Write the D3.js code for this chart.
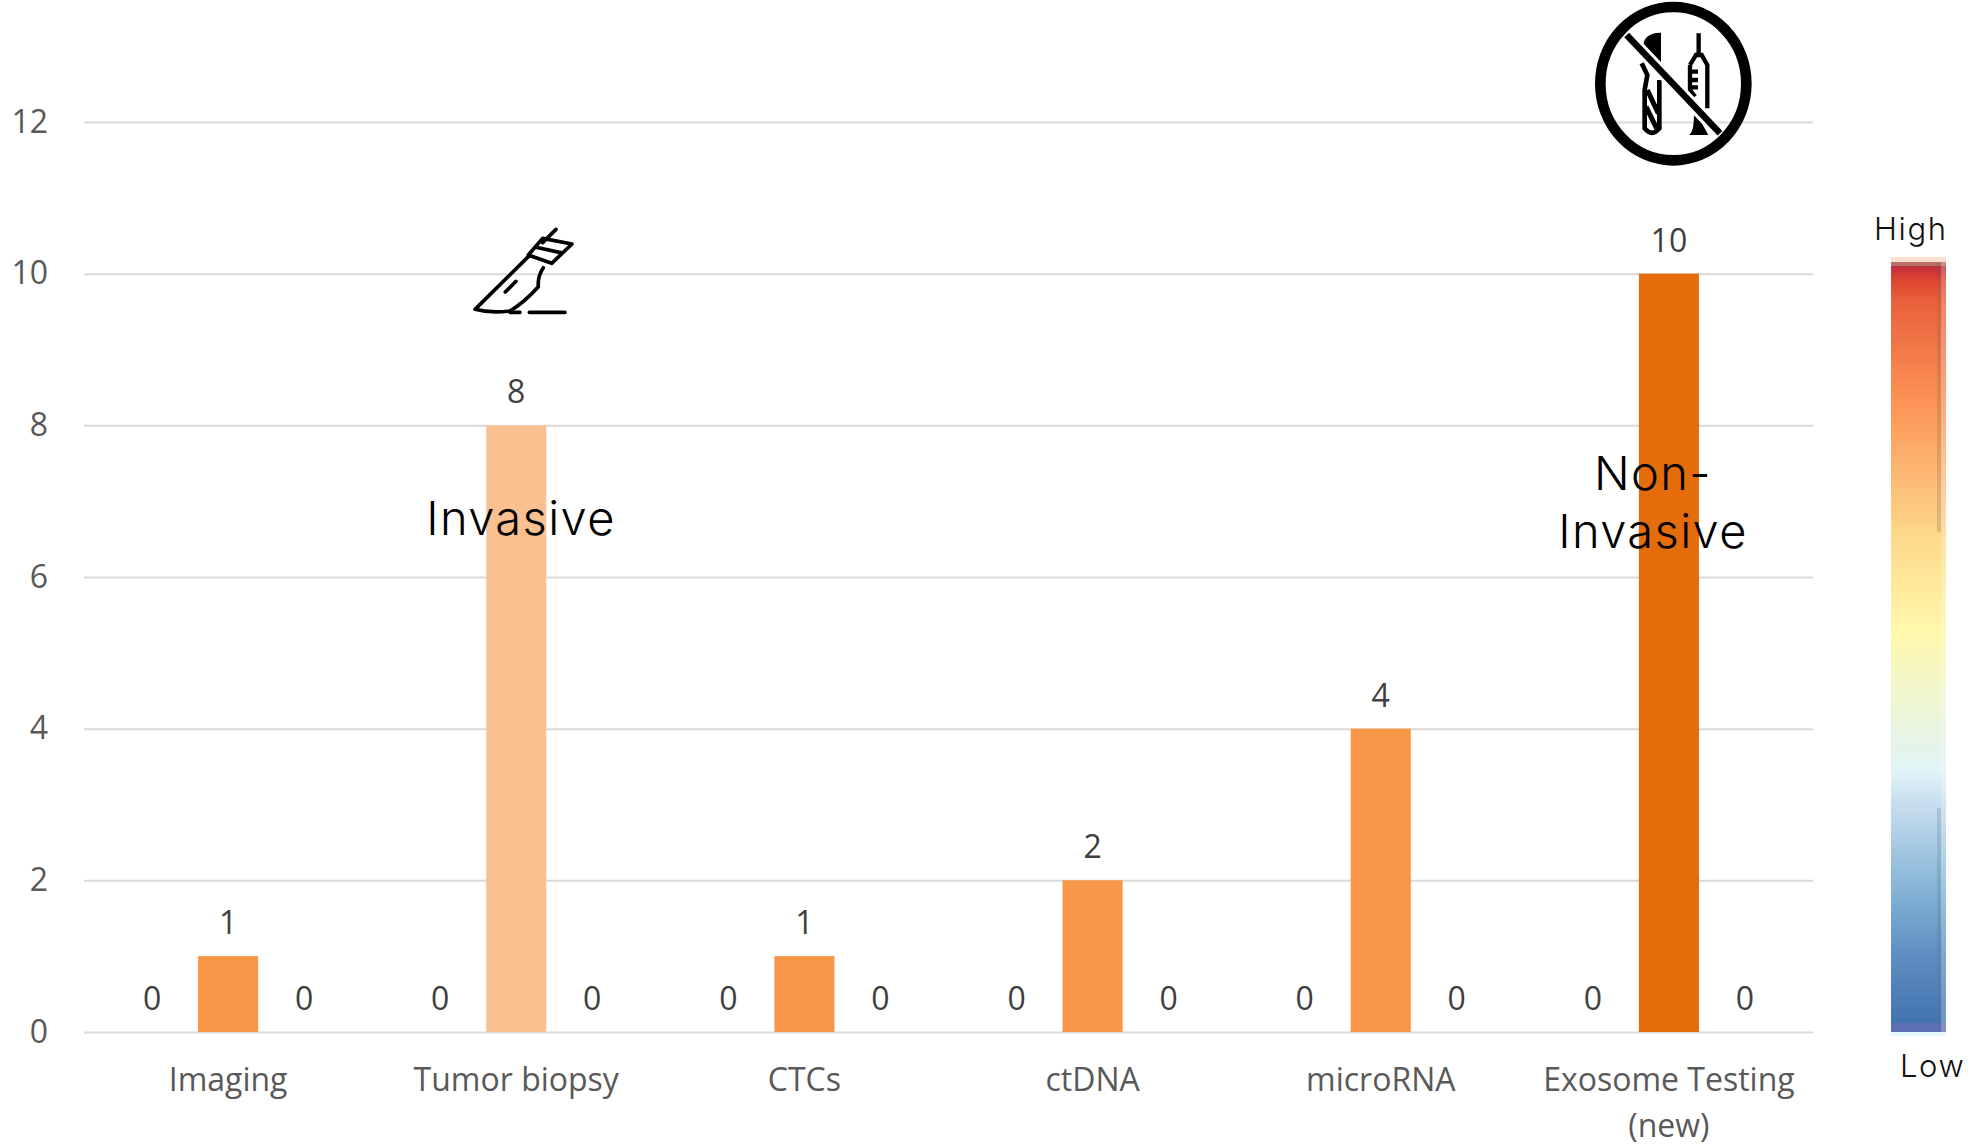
<!DOCTYPE html>
<html>
<head>
<meta charset="utf-8">
<script src="https://cdn.jsdelivr.net/npm/d3@7"></script>
<style>
  html, body { margin: 0; padding: 0; background: #fff; }
  svg { display: block; }
</style>
</head>
<body>
<script>
const categories = ["Imaging", "Tumor biopsy", "CTCs", "ctDNA", "microRNA", "Exosome Testing (new)"];
const seriesNames = ["before", "score", "after"];
const beforeValues = [0, 0, 0, 0, 0, 0];
const scoreValues = [1, 8, 1, 2, 4, 10];
const afterValues = [0, 0, 0, 0, 0, 0];
const scoreColors = ["#f79646", "#fac090", "#f79646", "#f79646", "#f79646", "#e46c0a"];
const yTicks = [0, 2, 4, 6, 8, 10, 12];
const legendOffsets = [0, 0.0064, 0.0064, 0.0116, 0.0116, 0.0167, 0.03, 0.056, 0.185, 0.36, 0.48, 0.57, 0.66, 0.70, 0.80, 0.90, 0.983, 0.983, 0.995, 0.995, 1];
const legendColors = ["#fde0cf", "#fde0cf", "#b97068", "#b97068", "#b5303a", "#c8323a", "#e0452f", "#e9603c", "#fc9355", "#fdd98c", "#fff8aa", "#eef6d2", "#e0f3f8", "#c9deee", "#8ab9d9", "#5c8cc0", "#4474b0", "#5f6fb5", "#5f6fb5", "#e6fbfb", "#e6fbfb"];

const width = 1971, height = 1145;
const plotLeft = 84, plotRight = 1813, plotTop = 122, plotBottom = 1032;
const labelFont = "'Open Sans', sans-serif";
const noteFont = "Inter, sans-serif";

const svg = d3.select("body").append("svg").attr("width", width).attr("height", height);

const x0 = d3.scaleBand().domain(categories).range([plotLeft, plotRight]);
const x1 = d3.scaleBand().domain(seriesNames).range([0, x0.bandwidth()]).paddingInner(0.21).paddingOuter(0.5);
const y = d3.scaleLinear().domain([0, 12]).range([plotBottom, plotTop]);

// gridlines + y labels
const yAxis = svg.append("g")
    .attr("transform", "translate(" + plotLeft + ",0)")
    .call(d3.axisLeft(y).tickValues(yTicks).tickSize(-(plotRight - plotLeft)).tickPadding(36));
yAxis.select(".domain").remove();
yAxis.selectAll("line").attr("stroke", "#d9d9d9").attr("stroke-width", 2);
yAxis.selectAll("text").attr("fill", "#595959").style("font", "32px " + labelFont);

// x labels
const xAxis = svg.append("g")
    .attr("transform", "translate(0," + plotBottom + ")")
    .call(d3.axisBottom(x0).tickSize(0).tickPadding(0));
xAxis.select(".domain").remove();
xAxis.selectAll("text").each(function (d) {
    const t = d3.select(this).attr("fill", "#595959").style("font", "32px " + labelFont).attr("y", 59).attr("dy", null).text(null);
    const parts = d === "Exosome Testing (new)" ? ["Exosome Testing", "(new)"] : [d];
    parts.forEach(function (p, i) {
        t.append("tspan").attr("x", 0).attr("y", 59 + i * 46).text(p);
    });
});

// bars + data labels
const rows = categories.map((c, i) => ({
    category: c,
    color: scoreColors[i],
    values: [
        { name: "before", v: beforeValues[i] },
        { name: "score", v: scoreValues[i] },
        { name: "after", v: afterValues[i] }
    ]
}));

const groups = svg.append("g").selectAll("g").data(rows).enter().append("g")
    .attr("transform", d => "translate(" + x0(d.category) + ",0)");

groups.selectAll("rect").data(d => d.values.map(e => ({ ...e, color: d.color }))).enter().append("rect")
    .attr("x", d => x1(d.name))
    .attr("y", d => y(d.v))
    .attr("width", x1.bandwidth())
    .attr("height", d => plotBottom - y(d.v))
    .attr("fill", d => d.color);

groups.selectAll("text").data(d => d.values).enter().append("text")
    .attr("x", d => x1(d.name) + x1.bandwidth() / 2)
    .attr("y", d => y(d.v) - 22)
    .attr("text-anchor", "middle")
    .attr("fill", "#404040")
    .style("font", "32px " + labelFont)
    .text(d => d.v);

// annotations
const notes = svg.append("g").attr("fill", "#000")
    .style("font-family", noteFont).style("font-size", "47px").style("font-weight", 300).style("letter-spacing", "1.4px");
notes.append("text").attr("x", 521).attr("y", 535).attr("text-anchor", "middle").text("Invasive");
notes.append("text").attr("x", 1653).attr("y", 490).attr("text-anchor", "middle").text("Non-");
notes.append("text").attr("x", 1653).attr("y", 548).attr("text-anchor", "middle").text("Invasive");

// scalpel icon (path coords are in a 3x space)
const scalpel = svg.append("g")
    .attr("transform", "translate(450,210) scale(0.3333)")
    .attr("fill", "none").attr("stroke", "#000").attr("stroke-width", 11)
    .attr("stroke-linecap", "round").attr("stroke-linejoin", "round");
scalpel.append("path").attr("d", "M318,58L278,98M278,85L366,102L305,160L235,135ZM258,112L332,128");
scalpel.append("path").attr("d", "M235,140L75,298Q120,310 180,303Q225,275 265,230Q262,200 280,173");
scalpel.append("path").attr("d", "M198,214L166,246");
scalpel.append("path").attr("d", "M180,307H210M238,307H345");

// no-tools icon, same 3x space
const ban = svg.append("g").attr("transform", "translate(1560,0) scale(0.3333)");
ban.append("path").attr("fill", "#000")
    .attr("d", "M303,98C282,97 252,105 250,135C252,160 268,185 290,205L303,225Z");
ban.append("path").attr("fill", "none").attr("stroke", "#000").attr("stroke-width", 14)
    .attr("d", "M245,190L262,225L254,270V385Q276,412 298,385V240");
ban.append("path").attr("fill", "none").attr("stroke", "#000").attr("stroke-width", 15)
    .attr("d", "M262,270L295,340M258,320L290,385");
ban.append("path").attr("fill", "none").attr("stroke", "#000").attr("stroke-width", 13)
    .attr("d", "M416,100V165M390,195L408,165H425L442,195V325M390,195V270L405,290M390,215H414M396,240H414M396,262H414");
ban.append("path").attr("fill", "#000").attr("d", "M402,345L425,368L445,405H388Q402,395 402,345Z");
ban.append("line").attr("x1", 200).attr("y1", 105).attr("x2", 480).attr("y2", 400)
    .attr("stroke", "#fff").attr("stroke-width", 38);
ban.append("line").attr("x1", 200).attr("y1", 105).attr("x2", 480).attr("y2", 400)
    .attr("stroke", "#000").attr("stroke-width", 20);
ban.append("ellipse").attr("cx", 340).attr("cy", 251).attr("rx", 219).attr("ry", 230)
    .attr("fill", "none").attr("stroke", "#000").attr("stroke-width", 32);

// colour legend
const grad = svg.append("defs").append("linearGradient").attr("id", "legendGrad")
    .attr("x1", 0).attr("y1", 0).attr("x2", 0).attr("y2", 1);
grad.selectAll("stop").data(legendOffsets).enter().append("stop")
    .attr("offset", d => d)
    .attr("stop-color", (d, i) => legendColors[i]);
svg.append("rect").attr("x", 1891).attr("y", 257).attr("width", 55).attr("height", 779).attr("fill", "url(#legendGrad)");
// the lighter right edge and thin darker stripe on the legend
svg.append("rect").attr("x", 1941).attr("y", 262).attr("width", 5).attr("height", 770).attr("fill", "#fff").attr("opacity", 0.22);
svg.append("rect").attr("x", 1937).attr("y", 262).attr("width", 4).attr("height", 270).attr("fill", "#7a5a50").attr("opacity", 0.22);
svg.append("rect").attr("x", 1937).attr("y", 808).attr("width", 4).attr("height", 220).attr("fill", "#4a6a80").attr("opacity", 0.2);

const legendText = svg.append("g").attr("fill", "#111")
    .style("font-family", noteFont).style("font-size", "31px").style("font-weight", 300).style("letter-spacing", "1.6px");
legendText.append("text").attr("x", 1874).attr("y", 240).text("High");
legendText.append("text").attr("x", 1900).attr("y", 1077).text("Low");
</script>
</body>
</html>
